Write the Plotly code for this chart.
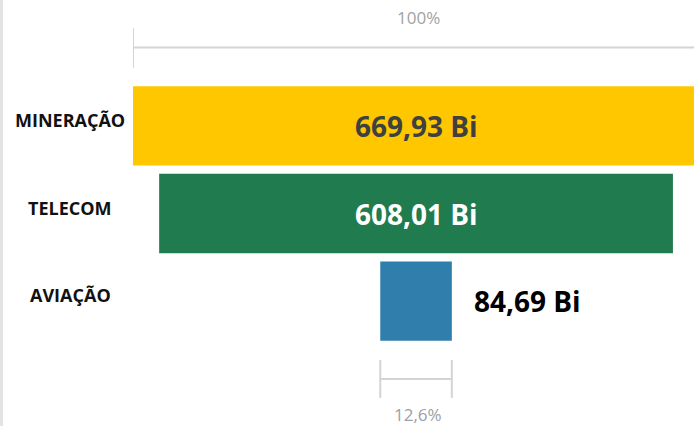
import plotly.graph_objects as go

categories = ["MINERAÇÃO", "TELECOM", "AVIAÇÃO"]
values = [669.93, 608.01, 84.69]
bar_colors = ["#FEC700", "#207B4F", "#307EAB"]
value_text_colors = ["#404040", "#FFFFFF", "#000000"]
value_inside = [True, True, False]

def fmt_bi(v):
    return f"{v:.2f}".replace(".", ",") + " Bi"

def fmt_pct(p):
    s = f"{p:.1f}".replace(".", ",")
    if s.endswith(",0"):
        s = s[:-2]
    return s + "%"

W, H = 694, 426
L, R, T, B = 133, 0, 82, 81
plot_w = W - L - R
plot_h = H - T - B
scale = 0.845  # px per value unit
vmax = max(values)
x0 = -vmax / 2
x1 = x0 + plot_w / scale

def py(pix):
    # pixel y (from top) -> paper y
    return (H - B - pix) / plot_h

fig = go.Figure()
fig.add_trace(go.Funnel(
    y=categories,
    x=values,
    marker=dict(color=bar_colors, line=dict(width=0)),
    connector=dict(visible=False),
    textinfo="none",
    hoverinfo="skip",
))

font_main = "Open Sans, Noto Sans, DejaVu Sans, sans-serif"
annotations = []
for i, (c, v) in enumerate(zip(categories, values)):
    annotations.append(dict(
        x=(70 - L) / plot_w, xref="paper", y=c, yref="y", yshift=6,
        text=f"<b>{c}</b>", showarrow=False, xanchor="center", yanchor="middle",
        font=dict(family=font_main, size=18, color="#111111"),
    ))
    if value_inside[i]:
        annotations.append(dict(
            x=0, xref="x", y=c, yref="y", yshift=0,
            text=f"<b>{fmt_bi(v)}</b>", showarrow=False, xanchor="center", yanchor="middle",
            font=dict(family=font_main, size=28, color=value_text_colors[i]),
        ))
    else:
        annotations.append(dict(
            x=v / 2, xref="x", y=c, yref="y", xshift=20, yshift=0,
            text=f"<b>{fmt_bi(v)}</b>", showarrow=False, xanchor="left", yanchor="middle",
            font=dict(family=font_main, size=28, color=value_text_colors[i]),
        ))

first, last = values[0], values[-1]
annotations.append(dict(
    x=0, xref="x", xshift=2, y=py(18), yref="paper", text=fmt_pct(100 * first / vmax),
    showarrow=False, xanchor="center", yanchor="middle",
    font=dict(family=font_main, size=17, color="#a2a2a2"),
))
annotations.append(dict(
    x=0, xref="x", xshift=2, y=py(414), yref="paper", text=fmt_pct(100 * last / vmax),
    showarrow=False, xanchor="center", yanchor="middle",
    font=dict(family=font_main, size=17, color="#9aa0a8"),
))

gray = "#d4d4d4"
shapes = [
    # top bracket (first category, 100%)
    dict(type="line", xref="x", yref="paper", x0=-first / 2, x1=first / 2, y0=py(47.5), y1=py(47.5),
         line=dict(color=gray, width=2)),
    dict(type="line", xref="x", yref="paper", x0=-first / 2, x1=-first / 2, y0=py(28), y1=py(68),
         line=dict(color=gray, width=2)),
    dict(type="line", xref="x", yref="paper", x0=first / 2, x1=first / 2, y0=py(28), y1=py(68),
         line=dict(color=gray, width=2)),
    # bottom bracket (last category)
    dict(type="line", xref="x", yref="paper", x0=-last / 2, x1=last / 2, y0=py(379), y1=py(379),
         line=dict(color=gray, width=2)),
    dict(type="line", xref="x", yref="paper", x0=-last / 2, x1=-last / 2, y0=py(360), y1=py(398),
         line=dict(color=gray, width=2)),
    dict(type="line", xref="x", yref="paper", x0=last / 2, x1=last / 2, y0=py(360), y1=py(398),
         line=dict(color=gray, width=2)),
    # faint left frame edge
    dict(type="rect", xref="paper", yref="paper", x0=(0 - L) / plot_w, x1=(3 - L) / plot_w,
         y0=py(426), y1=py(0), line=dict(width=0), fillcolor="#e3e3e3"),
]

fig.update_layout(
    width=W, height=H,
    margin=dict(l=L, r=R, t=T, b=B, pad=0),
    paper_bgcolor="white", plot_bgcolor="white",
    showlegend=False,
    funnelgap=0.095,
    xaxis=dict(range=[x0, x1], visible=False, fixedrange=True),
    yaxis=dict(range=[2.5, -0.5], visible=False, fixedrange=True),
    annotations=annotations,
    shapes=shapes,
)

fig.write_html(
    "out.html",
    config={"displayModeBar": False},
    post_script="document.body.style.margin='0';document.body.style.overflow='hidden';",
)
